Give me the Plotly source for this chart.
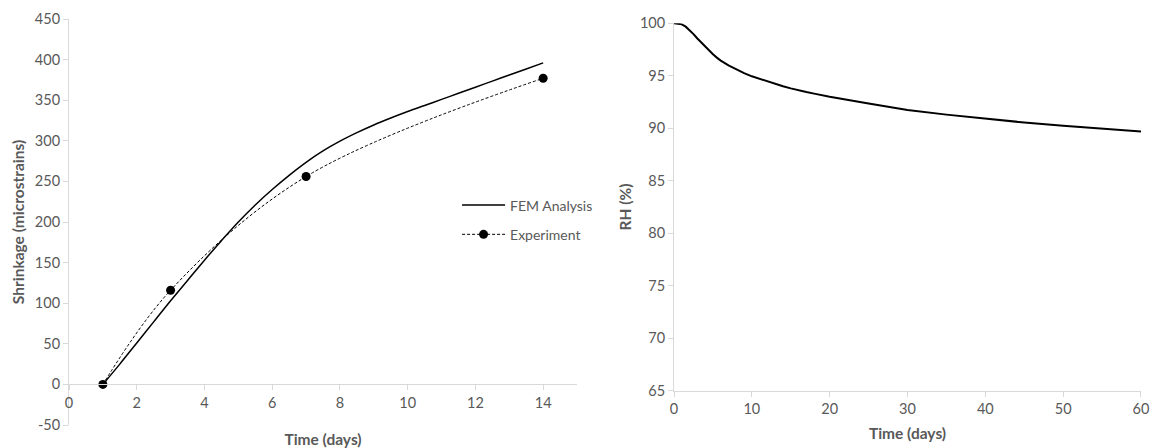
import plotly.graph_objects as go

# Left chart: shrinkage
fem_days = [1, 1.5, 2, 2.5, 3, 3.5, 4, 4.5, 5, 5.5, 6, 6.5, 7, 7.5, 8, 8.5, 9, 9.5, 10, 10.5, 11, 11.5, 12, 12.5, 13, 13.5, 14]
fem_shrinkage = [0, 25, 51, 77, 103, 128, 153, 177, 200, 221, 240, 257.5, 273.5, 287.5, 299.5, 310, 319.5, 328, 336, 343.5, 351, 358.5, 366, 373.5, 381, 388.5, 396]

exp_days = [1, 3, 7, 14]
exp_shrinkage = [0, 116, 256, 377]

shrink_tick_vals = [-50, 0, 50, 100, 150, 200, 250, 300, 350, 400, 450]
shrink_tick_text = ["-50", "0", "50", "100", "150", "200", "250", "300", "350", "400", "450"]

# Right chart: relative humidity
rh_days = [0, 0.5, 1, 1.5, 2, 2.5, 3, 3.5, 4, 4.5, 5, 5.5, 6, 7, 8, 9, 10, 11, 12, 13, 14, 15, 16, 17, 18, 19, 20, 25, 30, 35, 40, 45, 50, 55, 60]
rh_values = [100, 99.98, 99.9, 99.68, 99.35, 98.97, 98.55, 98.15, 97.75, 97.38, 97.05, 96.73, 96.45, 96.0, 95.6, 95.25, 94.95, 94.7, 94.45, 94.2, 94.0, 93.8, 93.6, 93.45, 93.3, 93.15, 93.0, 92.35, 91.75, 91.3, 90.9, 90.55, 90.25, 89.95, 89.7]

grey = "#595959"
axis_grey = "#d9d9d9"
font_family = "Lato"

fig = go.Figure()

fig.add_trace(go.Scatter(
    x=fem_days, y=fem_shrinkage, mode="lines", name="FEM Analysis",
    line=dict(color="black", width=1.5, shape="spline"),
    xaxis="x", yaxis="y", legendgroup="a",
))
fig.add_trace(go.Scatter(
    x=exp_days, y=exp_shrinkage, mode="lines+markers", name="Experiment",
    line=dict(color="black", width=1, dash="3px,2px", shape="spline"),
    marker=dict(color="black", size=9),
    xaxis="x", yaxis="y", legendgroup="b",
))
fig.add_trace(go.Scatter(
    x=rh_days, y=rh_values, mode="lines", name="RH",
    line=dict(color="black", width=2, shape="linear"),
    xaxis="x2", yaxis="y2", showlegend=False,
))

tick_font = dict(family=font_family, size=14.5, color=grey)
title_font = dict(family=font_family, size=15.5, color=grey, weight="bold")

common = dict(
    showline=True, linecolor=axis_grey, linewidth=1,
    ticks="outside", tickcolor=axis_grey, ticklen=5,
    showgrid=False, zeroline=False, tickfont=tick_font,
    automargin=False,
)

fig.update_layout(
    width=1154, height=440,
    margin=dict(l=61, r=21, t=11, b=23),
    paper_bgcolor="white", plot_bgcolor="white",
    font=dict(family=font_family, size=13, color=grey),
    xaxis=dict(domain=[0, 0.4739], range=[0, 15], dtick=2, tick0=0,
               anchor="free", position=0.1,
               title=dict(text="Time (days)", font=title_font, standoff=27),
               **common),
    yaxis=dict(domain=[0, 1], range=[-50, 450], anchor="x",
               tickmode="array", tickvals=shrink_tick_vals, ticktext=shrink_tick_text,
               title=dict(text="Shrinkage (microstrains)", font=title_font, standoff=6),
               **common),
    xaxis2=dict(domain=[0.5644, 1], range=[0, 60], dtick=10, anchor="y2",
                title=dict(text="Time (days)", font=title_font, standoff=12),
                **common),
    yaxis2=dict(domain=[0.0845, 0.9894], range=[65, 100], dtick=5, anchor="x2",
                title=dict(text="RH (%)", font=title_font, standoff=4),
                **common),
    legend=dict(x=0.362, y=0.58, xanchor="left", yanchor="top",
                bgcolor="rgba(0,0,0,0)", font=dict(family=font_family, size=14, color=grey),
                traceorder="grouped", tracegroupgap=8, itemwidth=43),
    showlegend=True,
)

fig.write_html("out.html")
